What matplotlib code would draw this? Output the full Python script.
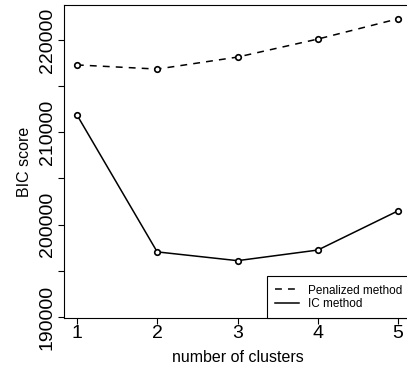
import matplotlib.pyplot as plt
from matplotlib.lines import Line2D

plt.rcParams['font.family'] = ['Liberation Sans', 'DejaVu Sans']

clusters = [1, 2, 3, 4, 5]
penalized = [217300, 216850, 218150, 220100, 222300]
ic_method = [211900, 197050, 196100, 197250, 201500]
legend_labels = ['Penalized method', 'IC method']

fig = plt.figure(figsize=(4.07, 3.71), dpi=100)
ax = fig.add_axes([64 / 407, 53 / 371, 347 / 407, 313 / 371])

# dashed line with open circles
ax.plot(clusters, penalized, color='black', lw=1.1, linestyle=(0, (4.5, 4)),
        marker='o', markersize=4, markerfacecolor='white', markeredgewidth=1.2)
ax.plot(clusters, ic_method, color='black', lw=1.1,
        marker='o', markersize=4, markerfacecolor='white', markeredgewidth=1.2)

ax.set_xlim(0.84, 5.16)
ax.set_ylim(189890, 223790)
ax.set_xticks(clusters)
ax.set_yticks([190000, 200000, 210000, 220000])
ax.set_yticks([195000, 205000, 215000], minor=True)

ax.tick_params(axis='both', which='both', length=4.5, width=0.8, direction='out')
ax.tick_params(axis='x', labelsize=14, pad=0.5)
ax.tick_params(axis='y', labelsize=14, pad=1.5)
for lab in ax.get_yticklabels():
    lab.set_rotation(90)
    lab.set_va('center')

for s in ax.spines.values():
    s.set_linewidth(0.8)

ax.set_xlabel('number of clusters', fontsize=11.5, labelpad=6)
ax.set_ylabel('BIC score', fontsize=11.5, labelpad=5)

handles = [Line2D([], [], color='black', lw=1.1, linestyle=(0, (4.5, 4))),
           Line2D([], [], color='black', lw=1.1)]
leg = ax.legend(handles, legend_labels, loc='lower right', fontsize=8.5,
                fancybox=False, edgecolor='black', framealpha=1,
                borderaxespad=0, handlelength=2.0, handletextpad=0.8,
                labelspacing=0.1, borderpad=0.7)
leg.get_frame().set_linewidth(0.8)

fig.savefig('out.png', dpi=100)
